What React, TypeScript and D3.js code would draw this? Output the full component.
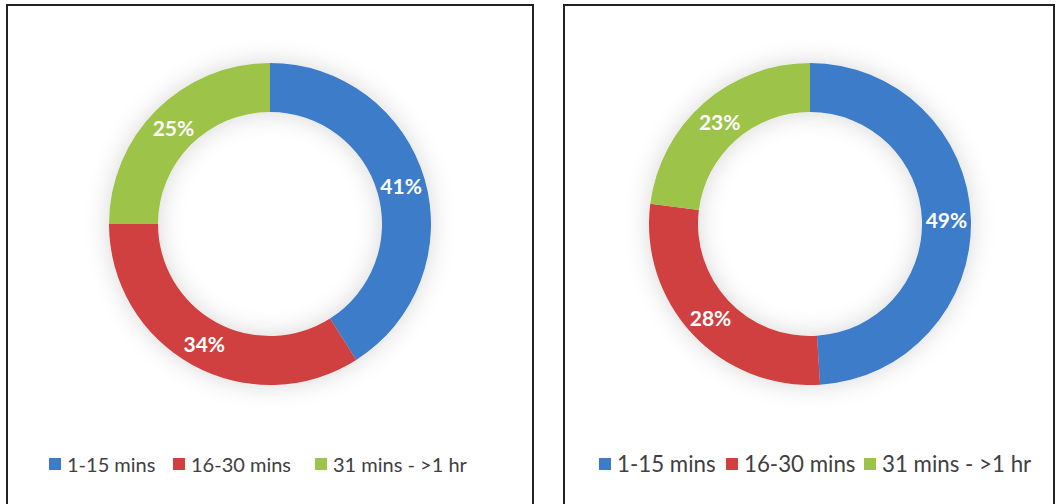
import React from "react";
import * as d3 from "d3";

const categories = ["1-15 mins", "16-30 mins", "31 mins - >1 hr"];
const leftValues = [41, 34, 25];
const rightValues = [49, 28, 23];
const colors = ["#3D7CC9", "#D04040", "#9DC34A"];

const W = 1058;
const H = 504;

type PanelCfg = {
  x0: number;
  x1: number;
  cx: number;
  values: number[];
  legendX: number[];
  legendFont: number;
};

const panels: PanelCfg[] = [
  { x0: 7, x1: 533, cx: 270, values: leftValues, legendX: [49, 173, 315], legendFont: 20 },
  { x0: 564, x1: 1054, cx: 810, values: rightValues, legendX: [599, 726, 864], legendFont: 22.3 },
];

const cy = 224;
const outerR = 161;
const innerR = 112;
const FONT = "Lato, 'Open Sans', 'DejaVu Sans', sans-serif";

function Donut({ cfg, idx }: { cfg: PanelCfg; idx: number }) {
  const pie = d3
    .pie<number>()
    .sort(null)
    .value((d) => d)
    .startAngle(0)
    .endAngle(2 * Math.PI);
  const arcs = pie(cfg.values);
  const arc = d3.arc<d3.PieArcDatum<number>>().innerRadius(innerR).outerRadius(outerR);
  const labelArc = d3
    .arc<d3.PieArcDatum<number>>()
    .innerRadius((innerR + outerR) / 2)
    .outerRadius((innerR + outerR) / 2);
  const total = d3.sum(cfg.values);
  return (
    <g>
      <rect
        x={cfg.x0}
        y={5}
        width={cfg.x1 - cfg.x0}
        height={H - 5 + 2}
        fill="#fff"
        stroke="#222"
        strokeWidth={2}
      />
      <g transform={`translate(${cfg.cx},${cy})`}>
        <g filter={`url(#shadow${idx})`}>
          {arcs.map((a, i) => (
            <path key={i} d={arc(a) || ""} fill={colors[i]} />
          ))}
        </g>
        {arcs.map((a, i) => {
          const [lx, ly] = labelArc.centroid(a);
          return (
            <text
              key={i}
              x={lx}
              y={ly + 1}
              dy="0.36em"
              textAnchor="middle"
              fill="#fff"
              fontFamily={FONT}
              fontWeight="bold"
              fontSize={21}
            >
              {Math.round((a.data / total) * 100)}%
            </text>
          );
        })}
      </g>
      {categories.map((c, i) => (
        <g key={c} transform={`translate(${cfg.legendX[i]},458)`}>
          <rect width={12} height={12} fill={colors[i]} />
          <text
            x={18}
            y={13.5}
            fontFamily={FONT}
            fontSize={cfg.legendFont}
            fill="#404040"
          >
            {c}
          </text>
        </g>
      ))}
    </g>
  );
}

export default function App() {
  return (
    <svg
      width={W}
      height={H}
      style={{ position: "absolute", left: 0, top: 0, background: "#fff" }}
    >
      <defs>
        {panels.map((_, idx) => (
          <filter key={idx} id={`shadow${idx}`} x="-30%" y="-30%" width="160%" height="160%">
            <feGaussianBlur in="SourceAlpha" stdDeviation="12" result="blur" />
            <feFlood floodColor="#000" floodOpacity="0.16" />
            <feComposite in2="blur" operator="in" result="sh" />
            <feMerge>
              <feMergeNode in="sh" />
              <feMergeNode in="SourceGraphic" />
            </feMerge>
          </filter>
        ))}
      </defs>
      {panels.map((p, i) => (
        <Donut key={i} cfg={p} idx={i} />
      ))}
    </svg>
  );
}
